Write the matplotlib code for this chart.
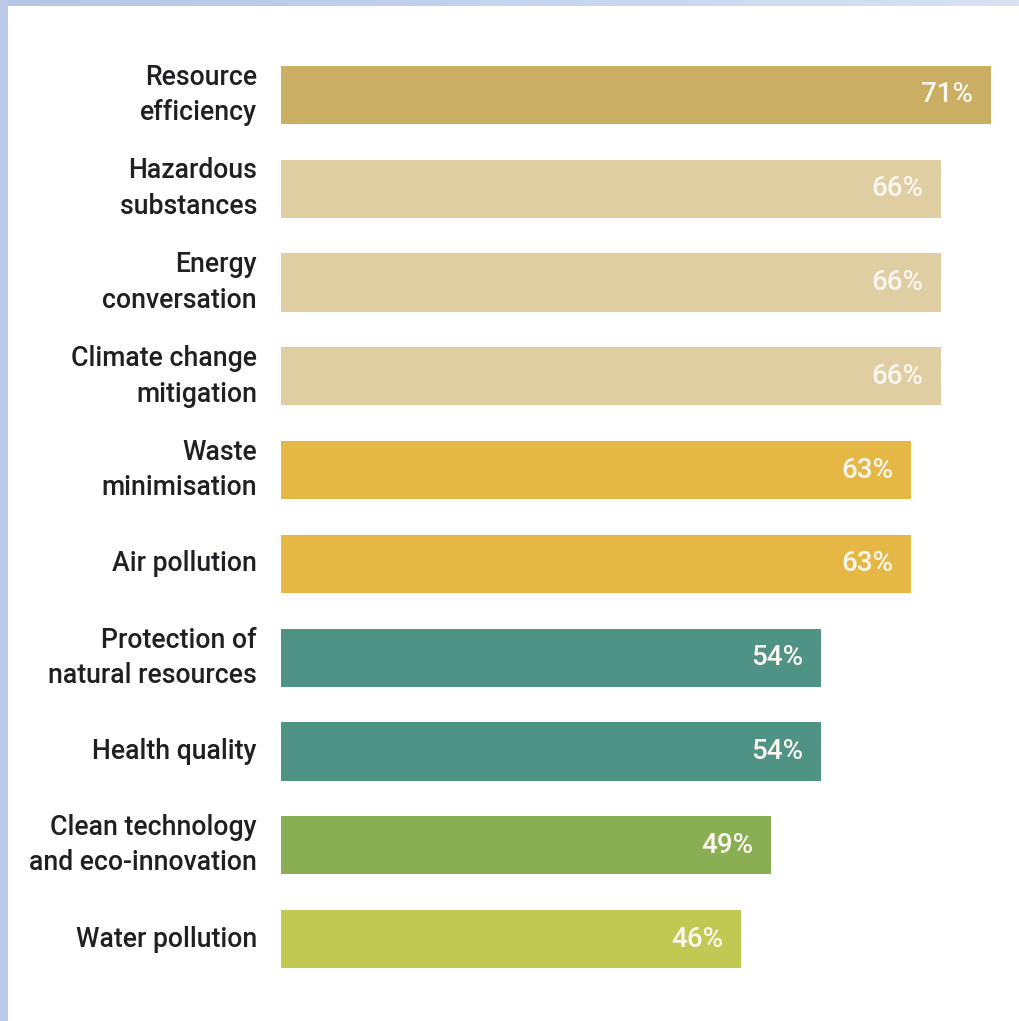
import matplotlib.pyplot as plt
import numpy as np
from matplotlib.patches import Rectangle
from matplotlib.colors import LinearSegmentedColormap

plt.rcParams['font.family'] = ['Roboto', 'DejaVu Sans']

topics = ['Resource\nefficiency', 'Hazardous\nsubstances', 'Energy\nconversation',
          'Climate change\nmitigation', 'Waste\nminimisation', 'Air pollution',
          'Protection of\nnatural resources', 'Health quality',
          'Clean technology\nand eco-innovation', 'Water pollution']
shares = [71, 66, 66, 66, 63, 63, 54, 54, 49, 46]
colors = ['#c9ae64', '#dfcea2', '#dfcea2', '#dfcea2', '#e5b846', '#e5b846',
          '#4f9385', '#4f9385', '#8aae53', '#c1c952']

W, H = 1019, 1021
fig = plt.figure(figsize=(W / 100, H / 100), dpi=100)
fig.patch.set_facecolor('white')

# light blue frame along the left and top edges
fig.patches.append(Rectangle((0, 0), 8 / W, 1, transform=fig.transFigure,
                             facecolor='#bccbe8', edgecolor='none', zorder=0))
band = fig.add_axes([0, 1 - 6 / H, 1, 6 / H])
grad = LinearSegmentedColormap.from_list('band', ['#b4c6e5', '#c4d3ee', '#d8e2f3'])
band.imshow(np.linspace(0, 1, 256)[None, :], aspect='auto', cmap=grad)
band.axis('off')

x0 = 281
scale = 10.0  # pixels per percent
ax = fig.add_axes([x0 / W, 1 - 986 / H, (W - x0) / W, 938 / H])
y = np.arange(len(topics))
ax.barh(y, shares, height=0.62, color=colors)
ax.set_xlim(0, (W - x0) / scale)
ax.set_ylim(len(topics) - 0.5, -0.5)
ax.axis('off')

for yi, (t, v) in enumerate(zip(topics, shares)):
    ax.annotate(t, (0, yi), xytext=(-24, 0), textcoords='offset pixels',
                ha='right', va='center', fontsize=19.2, fontweight='medium',
                color='#1f1f24', linespacing=1.4, multialignment='right')
    ax.annotate(f'{v}%', (v, yi), xytext=(-18, 0), textcoords='offset pixels',
                ha='right', va='center', fontsize=20, fontweight='medium',
                color='#fbf7ef')

fig.savefig('out.png', dpi=100)
